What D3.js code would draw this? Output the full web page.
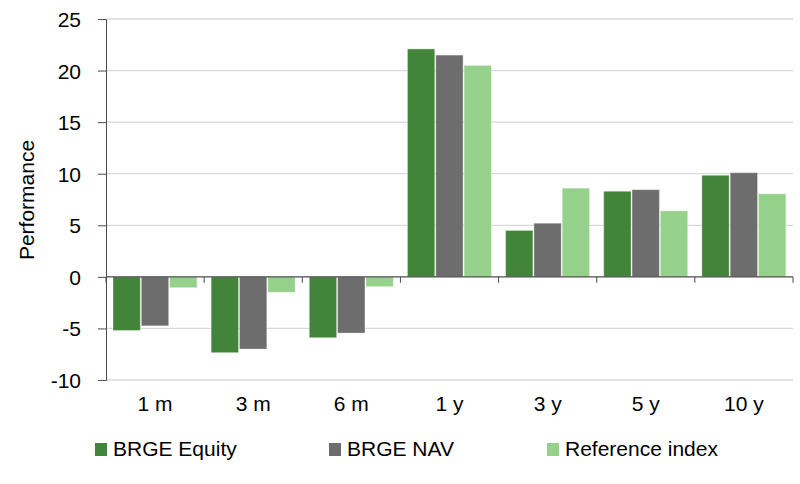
<!DOCTYPE html>
<html>
<head>
<meta charset="utf-8">
<script src="https://cdn.jsdelivr.net/npm/d3@7"></script>
<style>
  body { margin: 0; background: #fff; }
  text { font-family: "Liberation Sans", Arial, sans-serif; fill: #000; }
</style>
</head>
<body>
<div id="chart"></div>
<script>
var categories = ["1 m", "3 m", "6 m", "1 y", "3 y", "5 y", "10 y"];
var seriesNames = ["BRGE Equity", "BRGE NAV", "Reference index"];
var brgeEquity = [-5.2, -7.35, -5.9, 22.1, 4.5, 8.3, 9.85];
var brgeNav = [-4.75, -7.0, -5.45, 21.5, 5.2, 8.45, 10.1];
var referenceIndex = [-1.05, -1.5, -0.95, 20.5, 8.6, 6.4, 8.05];
var yTicks = [-10, -5, 0, 5, 10, 15, 20, 25];
var colors = ["#42843a", "#6d6d6d", "#96d18b"];

var width = 800, height = 484;
var margin = {top: 19, right: 7, bottom: 104, left: 106};
var fontSize = "21px";

var svg = d3.select("#chart").append("svg")
  .attr("width", width)
  .attr("height", height);

var x = d3.scaleBand()
  .domain(categories)
  .range([margin.left, width - margin.right]);

var y = d3.scaleLinear()
  .domain([-10, 25])
  .range([height - margin.bottom, margin.top]);

var inner = d3.scaleBand()
  .domain(seriesNames)
  .range([7, 7 + 3 * 28])
  .paddingInner(0.035)
  .paddingOuter(0);

// gridlines
svg.append("g")
  .selectAll("line")
  .data(yTicks.filter(function(d) { return d !== 0; }))
  .enter().append("line")
  .attr("x1", margin.left)
  .attr("x2", width - margin.right)
  .attr("y1", function(d) { return y(d); })
  .attr("y2", function(d) { return y(d); })
  .attr("stroke", "#d9d9d9")
  .attr("stroke-width", 1.3);

var data = categories.map(function(c, i) {
  return [
    {cat: c, name: seriesNames[0], val: brgeEquity[i]},
    {cat: c, name: seriesNames[1], val: brgeNav[i]},
    {cat: c, name: seriesNames[2], val: referenceIndex[i]}
  ];
});

var groups = svg.append("g")
  .selectAll("g")
  .data(data)
  .enter().append("g")
  .attr("transform", function(d, i) { return "translate(" + x(categories[i]) + ",0)"; });

groups.selectAll("rect")
  .data(function(d) { return d; })
  .enter().append("rect")
  .attr("x", function(d) { return inner(d.name); })
  .attr("width", inner.bandwidth())
  .attr("y", function(d) { return y(Math.max(0, d.val)); })
  .attr("height", function(d) { return Math.abs(y(d.val) - y(0)); })
  .attr("fill", function(d, i) { return colors[i]; })
  .attr("stroke", "#ffffff")
  .attr("stroke-opacity", 0.35)
  .attr("stroke-width", 1);

// y axis
var yAxis = svg.append("g")
  .attr("transform", "translate(" + margin.left + ",0)")
  .call(d3.axisLeft(y).tickValues(yTicks).tickSize(8).tickPadding(17)
    .tickFormat(function(d) { return String(d); }));
yAxis.selectAll("path, line").attr("stroke", "#4d4d4d");
yAxis.selectAll("text").style("font-size", fontSize).attr("dy", "0.36em");

// x axis at zero
var xAxis = svg.append("g")
  .attr("transform", "translate(0," + y(0) + ")");
xAxis.append("line")
  .attr("x1", margin.left)
  .attr("x2", width - margin.right)
  .attr("stroke", "#4d4d4d")
  .attr("stroke-width", 1.3);
xAxis.selectAll(".tk")
  .data(categories.concat(["end"]))
  .enter().append("line")
  .attr("class", "tk")
  .attr("x1", function(d, i) { return i < categories.length ? x(d) : width - margin.right; })
  .attr("x2", function(d, i) { return i < categories.length ? x(d) : width - margin.right; })
  .attr("y1", 0)
  .attr("y2", 6)
  .attr("stroke", "#4d4d4d");

svg.append("g")
  .selectAll("text")
  .data(categories)
  .enter().append("text")
  .attr("x", function(d) { return x(d) + x.bandwidth() / 2; })
  .attr("y", 411)
  .attr("text-anchor", "middle")
  .style("font-size", fontSize)
  .text(function(d) { return d; });

// y label
svg.append("text")
  .attr("transform", "translate(34,200) rotate(-90)")
  .attr("text-anchor", "middle")
  .style("font-size", fontSize)
  .text("Performance");

// legend
var legendX = [95, 329, 547];
var legend = svg.append("g")
  .selectAll("g")
  .data(seriesNames)
  .enter().append("g")
  .attr("transform", function(d, i) { return "translate(" + legendX[i] + ",443)"; });
legend.append("rect")
  .attr("width", 12)
  .attr("height", 13)
  .attr("fill", function(d, i) { return colors[i]; });
legend.append("text")
  .attr("x", 18)
  .attr("y", 12.5)
  .style("font-size", fontSize)
  .text(function(d) { return d; });
</script>
</body>
</html>
